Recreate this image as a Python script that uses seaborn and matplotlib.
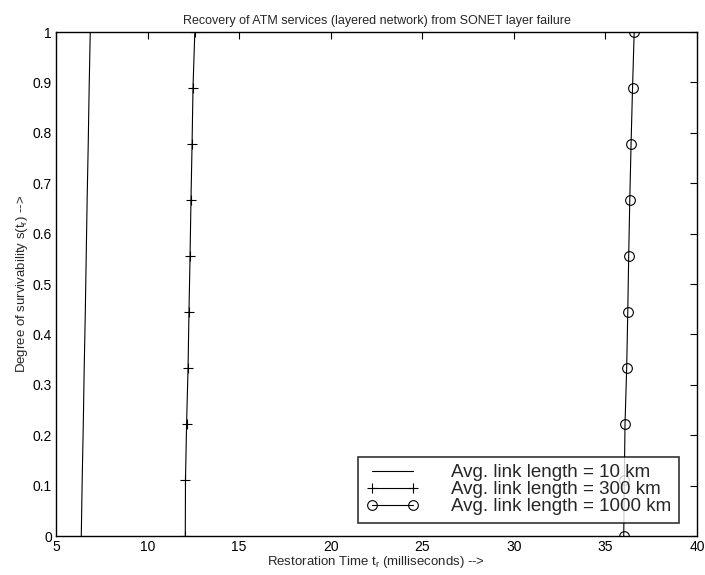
import matplotlib
matplotlib.use("Agg")
import matplotlib.pyplot as plt
import seaborn as sns
import pandas as pd

survivability = [0.0, 0.111, 0.222, 0.333, 0.444, 0.556, 0.667, 0.778, 0.889, 1.0]
t_10km = [6.38, 6.43, 6.49, 6.54, 6.60, 6.65, 6.70, 6.76, 6.81, 6.87]
t_300km = [12.06, 12.07, 12.13, 12.21, 12.26, 12.32, 12.37, 12.43, 12.48, 12.58]
t_1000km = [36.00, 36.03, 36.07, 36.16, 36.22, 36.27, 36.33, 36.40, 36.48, 36.57]
labels = ["Avg. link length = 10 km", "Avg. link length = 300 km", "Avg. link length = 1000 km"]
xticks = [5, 10, 15, 20, 25, 30, 35, 40]
yticks = [0, 0.1, 0.2, 0.3, 0.4, 0.5, 0.6, 0.7, 0.8, 0.9, 1]
ytick_labels = ["0", "0.1", "0.2", "0.3", "0.4", "0.5", "0.6", "0.7", "0.8", "0.9", "1"]

sns.set_style("white")
plt.rcParams["font.family"] = ["Liberation Sans", "DejaVu Sans"]
plt.rcParams["mathtext.default"] = "regular"

fig = plt.figure(figsize=(7.05, 5.75), dpi=100)
ax = fig.add_axes([56/705, 1-536/575, (697-56)/705, (536-32)/575])

series = [(t_10km, "None", labels[0]), (t_300km, "+", labels[1]), (t_1000km, "o", labels[2])]
for tvals, mk, lab in series:
    df = pd.DataFrame({"t": tvals, "s": survivability})
    sns.lineplot(data=df, x="t", y="s", ax=ax, color="black", linewidth=0.8,
                 estimator=None, sort=False, marker=mk, markersize=7,
                 markerfacecolor="none", markeredgecolor="black", markeredgewidth=0.8,
                 label=lab)

ax.set_xlim(5, 40)
ax.set_ylim(0, 1)
ax.set_xticks(xticks)
ax.set_xticklabels([str(v) for v in xticks])
ax.set_yticks(yticks)
ax.set_yticklabels(ytick_labels)
ax.tick_params(direction="in", length=5, width=0.8, top=True, right=True,
               labelsize=10, pad=3, colors="black")
for sp in ax.spines.values():
    sp.set_visible(True)
    sp.set_color("black")
    sp.set_linewidth(1.0)

ax.set_title("Recovery of ATM services (layered network) from SONET layer failure",
             fontsize=9, pad=6)
ax.set_xlabel("Restoration Time t$_r$ (milliseconds) -->", fontsize=9.5, labelpad=0)
ax.set_ylabel("Degree of survivability s(t$_r$) -->", fontsize=9.5, labelpad=2)

leg = ax.legend(loc="lower right", bbox_to_anchor=(0.972, 0.026), borderaxespad=0,
                fontsize=13.5, numpoints=2,
                frameon=True, fancybox=False, edgecolor="black", handlelength=2.8,
                handletextpad=1.75, borderpad=0.4, labelspacing=0.0)
leg.get_frame().set_linewidth(1.2)

fig.savefig("out.png", dpi=100)
